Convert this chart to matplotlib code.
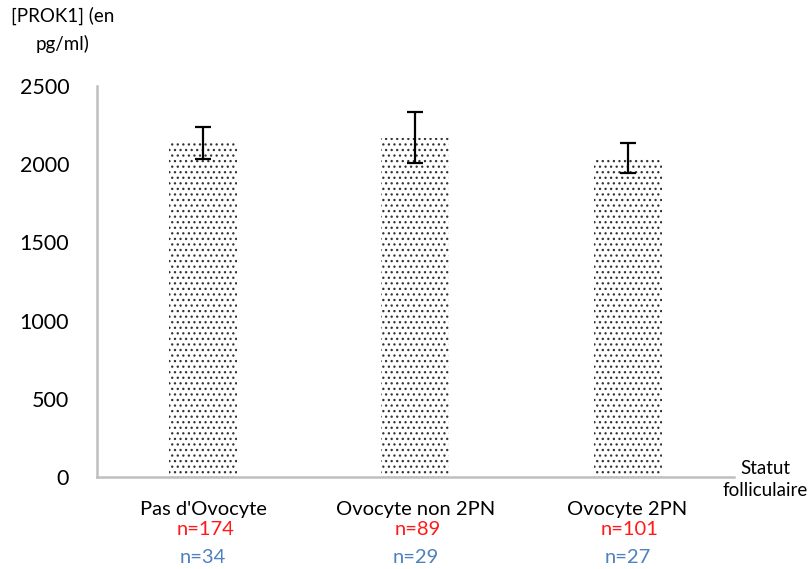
import matplotlib.pyplot as plt

# values
categories = ["Pas d'Ovocyte", "Ovocyte non 2PN", "Ovocyte 2PN"]
means = [2135, 2170, 2040]
errors = [105, 165, 95]
n_red = ["n=174", "n=89", "n=101"]
n_blue = ["n=34", "n=29", "n=27"]
yticks = [0, 500, 1000, 1500, 2000, 2500]

plt.rcParams['font.family'] = ['Lato', 'DejaVu Sans']
plt.rcParams['hatch.linewidth'] = 0.9

fig = plt.figure(figsize=(8.08, 5.69), dpi=100)
ax = fig.add_axes([0.12, 0.1617, 0.788, 0.6873])

x = range(len(categories))
ax.bar(x, means, width=0.32, color='white', edgecolor='#333333', linewidth=0, hatch='...')
ax.errorbar(x, means, yerr=errors, fmt='none', ecolor='black', elinewidth=1.6, capsize=6, capthick=1.6)

ax.set_xlim(-0.5, 2.5)
ax.set_ylim(0, 2500)
ax.set_yticks(yticks)
ax.set_yticklabels([str(v) for v in yticks], fontsize=15.5)
ax.tick_params(axis='y', length=0, pad=20)
ax.set_xticks([])

for s in ['top', 'right']:
    ax.spines[s].set_visible(False)
for s in ['left', 'bottom']:
    ax.spines[s].set_color('#bfbfbf')
    ax.spines[s].set_linewidth(1.8)

# category labels and counts below the axis
for i, cat in enumerate(categories):
    ax.text(i, -0.082, cat, transform=ax.get_xaxis_transform(), ha='center', va='center', fontsize=14.5)
    ax.text(i + 0.01, -0.133, n_red[i], transform=ax.get_xaxis_transform(), ha='center', va='center',
            fontsize=14.5, color='#ff1a1a')
    ax.text(i, -0.205, n_blue[i], transform=ax.get_xaxis_transform(), ha='center', va='center',
            fontsize=14.5, color='#4f81bd')

fig.text(0.078, 0.973, "[PROK1] (en", ha='center', va='center', fontsize=13.5)
fig.text(0.078, 0.922, "pg/ml)", ha='center', va='center', fontsize=13.5)
fig.text(0.947, 0.177, "Statut", ha='center', va='center', fontsize=13.5)
fig.text(0.947, 0.138, "folliculaire", ha='center', va='center', fontsize=13.5)

fig.savefig('out.png', dpi=100)
